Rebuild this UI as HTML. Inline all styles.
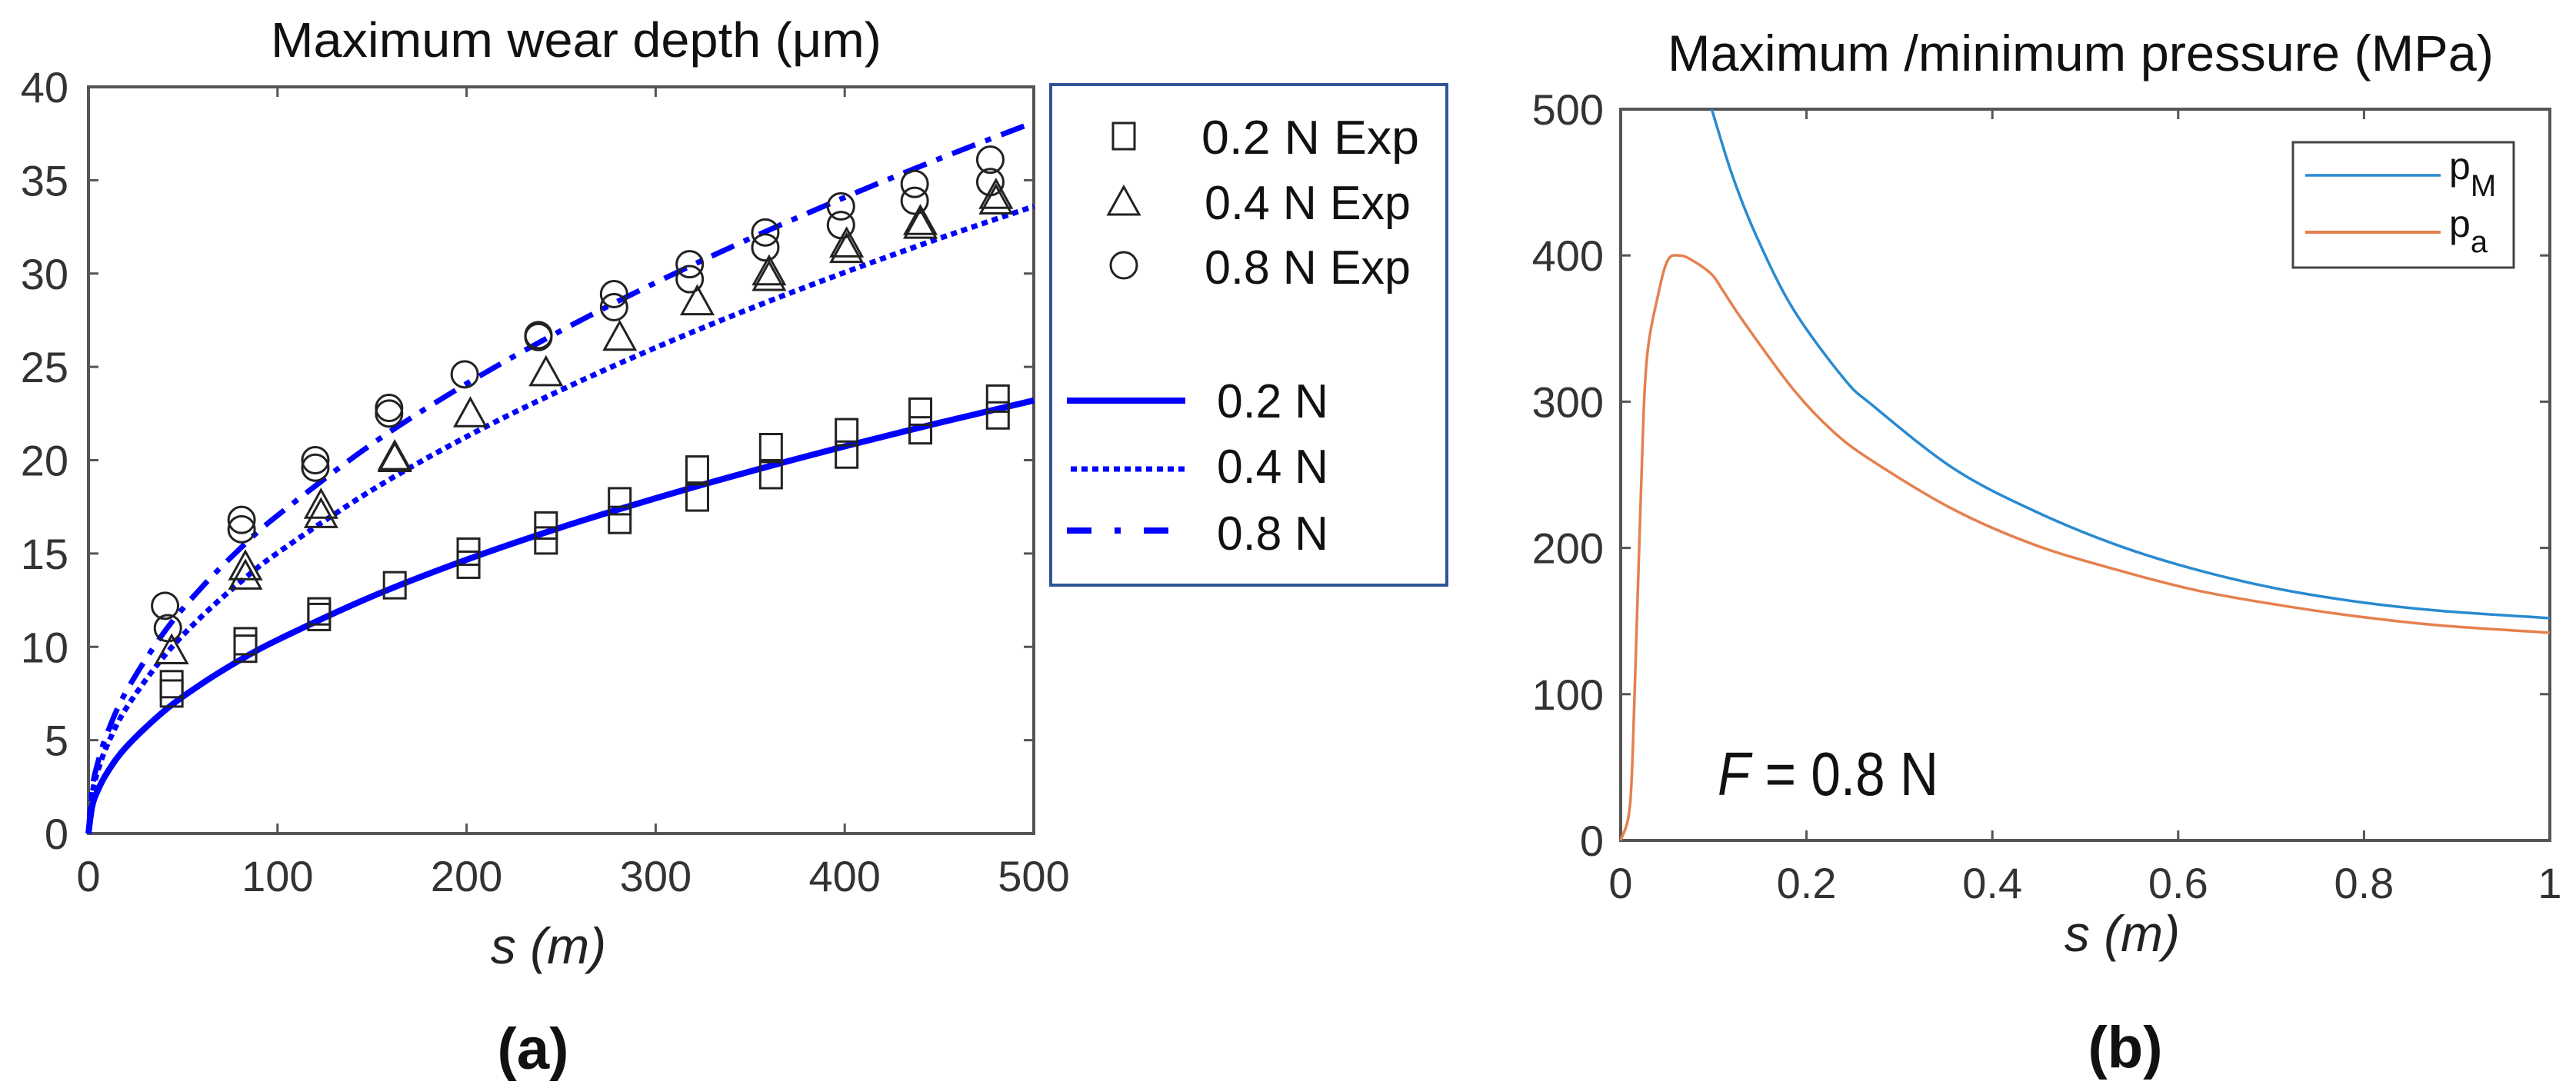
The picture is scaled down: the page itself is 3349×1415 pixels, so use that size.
<!DOCTYPE html>
<html><head><meta charset="utf-8">
<style>
html,body{margin:0;padding:0;background:#fff;}
svg{display:block;}
text{font-family:"Liberation Sans",Arial,sans-serif;}
</style></head>
<body>
<svg id="fig" width="3349" height="1415" viewBox="0 0 3349 1415" xmlns="http://www.w3.org/2000/svg">
<g id="A"></g>
<g id="B"></g>
</svg>
<script>
// ---------- Chart (a) data ----------
const sCurve = [0,2,5,10,20,40,60,80,100,150,200,250,300,350,400,450,500];
const model02 = [0,1.47,2.32,3.28,4.64,6.56,8.03,9.28,10.37,12.70,14.67,16.40,17.96,19.40,20.74,22.0,23.2];
const model04 = [0,2.13,3.36,4.75,6.72,9.5,11.64,13.44,15.03,18.4,21.26,23.76,26.03,28.12,30.06,31.88,33.6];
const model08 = [0,2.41,3.81,5.39,7.62,10.78,13.2,15.24,17.04,20.87,24.1,26.94,29.51,31.88,34.08,36.15,38.1];
const expSqS = [44,44,83,83,122,122,162,201,201,242,242,281,281,322,322,361,361,401,401,440,440,481,481];
const expSqV = [8.0,7.5,10.3,9.9,11.9,11.6,13.3,15.1,14.4,16.5,15.7,17.8,16.8,19.5,18.0,20.7,19.2,21.5,20.3,22.6,21.6,23.3,22.4];
const expTrS = [44,83,83,123,123,162,162,202,242,281,322,360,360,401,401,440,440,480,480];
const expTrV = [9.7,14.2,13.7,17.5,17.0,20.1,20.0,22.4,24.6,26.5,28.4,30.0,29.7,31.5,31.2,32.7,32.5,34.1,33.8];
const expCiS = [40.5,42,81,81,120,120,159,159,199,238,238,278,278,318,318,358,358,398,398,437,437,477,477];
const expCiV = [12.2,11.0,16.8,16.3,20.0,19.6,22.8,22.5,24.6,26.7,26.6,28.9,28.2,30.5,29.7,32.2,31.4,33.6,32.6,34.8,33.9,36.1,34.9];
const aXTicks = [0,100,200,300,400,500];
const aYTicks = [0,5,10,15,20,25,30,35,40];

// ---------- Chart (b) data ----------
const pMS = [0.098,0.12,0.1455,0.185,0.24,0.272,0.359,0.446,0.534,0.62,0.708,0.795,0.882,1.0];
const pMV = [500,455,414,364,316,297,254,225,202,185,172,163,157,152];
const paS = [0,0.01,0.015,0.022,0.028,0.041,0.051,0.063,0.076,0.098,0.111,0.133,0.185,0.228,0.272,0.359,0.446,0.534,0.62,0.708,0.795,0.882,1.0];
const paV = [0,24,100,242,328,375,397,400,397,387,375,354,309,280,259,226,202,185,171,161,153,147,142];
const bXTicks = [0,0.2,0.4,0.6,0.8,1];
const bXLabels = ["0","0.2","0.4","0.6","0.8","1"];
const bYTicks = [0,100,200,300,400,500];

const NS = "http://www.w3.org/2000/svg";
function mk(parent, tag, attrs, txt){
  const e = document.createElementNS(NS, tag);
  for (const k in attrs) e.setAttribute(k, attrs[k]);
  if (txt !== undefined) e.textContent = txt;
  parent.appendChild(e);
  return e;
}

// ---------- Draw chart (a) ----------
const A = document.getElementById('A');
const ax0=115, ax1=1344, ay0=1084, ay1=113;
const axX = v => ax0 + (v/500)*(ax1-ax0);
const axY = v => ay0 - (v/40)*(ay0-ay1);

let t = mk(A,'text',{x:352,y:74,'font-size':64,textLength:794,lengthAdjust:'spacingAndGlyphs',fill:'#111'},'Maximum wear depth (μm)');



aXTicks.forEach(v=>{
  const x=axX(v);
  let l=mk(A,'line',{x1:x,y1:ay0,x2:x,y2:ay0-13,stroke:'#555','stroke-width':3});
  
  
  l=mk(A,'line',{x1:x,y1:ay1,x2:x,y2:ay1+13,stroke:'#555','stroke-width':3});
  
  
  const tx=mk(A,'text',{x:x,y:ay0+75,'font-size':56,'text-anchor':'middle',fill:'#333'},String(v));
  
  
});
aYTicks.forEach(v=>{
  const y=axY(v);
  let l=mk(A,'line',{x1:ax0,y1:y,x2:ax0+13,y2:y,stroke:'#555','stroke-width':3});
  
  
  l=mk(A,'line',{x1:ax1,y1:y,x2:ax1-13,y2:y,stroke:'#555','stroke-width':3});
  
  
  const tx=mk(A,'text',{x:89,y:y+20,'font-size':56,'text-anchor':'end',fill:'#333'},String(v));
  
  
});
let fr=mk(A,'rect',{x:ax0,y:ay1,width:ax1-ax0,height:ay0-ay1,fill:'none',stroke:'#555','stroke-width':4});



function curve(g, xs, ys, fx, fy, attrs, name){
  const P = xs.map((x,i)=>[fx(x), fy(ys[i])]);
  let d = 'M'+P[0][0].toFixed(1)+','+P[0][1].toFixed(1);
  for (let i=0;i<P.length-1;i++){
    const p0=P[Math.max(0,i-1)], p1=P[i], p2=P[i+1], p3=P[Math.min(P.length-1,i+2)];
    const c1=[p1[0]+(p2[0]-p0[0])/6, p1[1]+(p2[1]-p0[1])/6];
    const c2=[p2[0]-(p3[0]-p1[0])/6, p2[1]-(p3[1]-p1[1])/6];
    d += ' C'+c1[0].toFixed(1)+','+c1[1].toFixed(1)+' '+c2[0].toFixed(1)+','+c2[1].toFixed(1)+' '+p2[0].toFixed(1)+','+p2[1].toFixed(1);
  }
  const p = mk(g,'path',Object.assign({d:d,fill:'none'},attrs));
  
  
  return p;
}
curve(A,sCurve,model02,axX,axY,{stroke:'#0000ff','stroke-width':8},'line-0.2N');
curve(A,sCurve,model04,axX,axY,{stroke:'#0000ff','stroke-width':7,'stroke-dasharray':'8 6'},'line-0.4N');
curve(A,sCurve,model08,axX,axY,{stroke:'#0000ff','stroke-width':7,'stroke-dasharray':'32 14 8 14'},'line-0.8N');

function square(g,cx,cy,name){
  const r=mk(g,'rect',{x:cx-14,y:cy-17,width:28,height:34,fill:'none',stroke:'#222','stroke-width':3});
  
  
}
function tri(g,cx,cy,name){
  const p=mk(g,'path',{d:`M${cx},${cy-22} L${cx+20},${cy+14} L${cx-20},${cy+14} Z`,fill:'none',stroke:'#222','stroke-width':3});
  
  
}
function circ(g,cx,cy,name){
  const c=mk(g,'ellipse',{cx:cx,cy:cy,rx:17,ry:17,fill:'none',stroke:'#222','stroke-width':3});
  
  
}
expSqS.forEach((s,i)=>square(A,axX(s),axY(expSqV[i]),'exp-0.2N-point'));
expTrS.forEach((s,i)=>tri(A,axX(s),axY(expTrV[i]),'exp-0.4N-point'));
expCiS.forEach((s,i)=>circ(A,axX(s),axY(expCiV[i]),'exp-0.8N-point'));

t=mk(A,'text',{x:713,y:1253,'font-size':66,'text-anchor':'middle','font-style':'italic',fill:'#222'},'s (m)');


t=mk(A,'text',{x:693,y:1390,'font-size':76,'text-anchor':'middle','font-weight':'bold','font-family':'Liberation Serif, serif',fill:'#111'},'(a)');



// legend (a)
const LG = mk(A,'g',{});


let lb=mk(LG,'rect',{x:1366,y:110,width:515,height:651,fill:'#fff',stroke:'#2f5597','stroke-width':4});


square(LG,1461,177,'legend-square-marker');
tri(LG,1461,265,'legend-triangle-marker');
circ(LG,1461,345,'legend-circle-marker');
[['0.2 N  Exp',1562,200,283],['0.4 N Exp',1566,285,268],['0.8 N Exp',1566,369,268],['0.2 N',1582,543,145],['0.4 N',1582,628,145],['0.8 N',1582,715,145]].forEach(e=>{
  const tx=mk(LG,'text',{x:e[1],y:e[2],'font-size':62,textLength:e[3],lengthAdjust:'spacingAndGlyphs',fill:'#111','xml:space':'preserve'},e[0]);
  
  
});
let ll=mk(LG,'line',{x1:1387,y1:521,x2:1541,y2:521,stroke:'#0000ff','stroke-width':8});


ll=mk(LG,'line',{x1:1392,y1:610,x2:1541,y2:610,stroke:'#0000ff','stroke-width':7,'stroke-dasharray':'8 6'});


ll=mk(LG,'line',{x1:1387,y1:690,x2:1520,y2:690,stroke:'#0000ff','stroke-width':8,'stroke-dasharray':'32 30 8 30'});



// ---------- Draw chart (b) ----------
const B = document.getElementById('B');
const bx0=2107, bx1=3315, by0=1093, by1=142;
const bX = v => bx0 + v*(bx1-bx0);
const bY = v => by0 - (v/500)*(by0-by1);

t=mk(B,'text',{x:2168,y:92,'font-size':66,textLength:1074,lengthAdjust:'spacingAndGlyphs',fill:'#111'},'Maximum /minimum pressure (MPa)');



bXTicks.forEach((v,i)=>{
  const x=bX(v);
  let l=mk(B,'line',{x1:x,y1:by0,x2:x,y2:by0-13,stroke:'#555','stroke-width':3});
  
  
  l=mk(B,'line',{x1:x,y1:by1,x2:x,y2:by1+13,stroke:'#555','stroke-width':3});
  
  
  const tx=mk(B,'text',{x:x,y:by0+75,'font-size':56,'text-anchor':'middle',fill:'#333'},bXLabels[i]);
  
  
});
bYTicks.forEach(v=>{
  const y=bY(v);
  let l=mk(B,'line',{x1:bx0,y1:y,x2:bx0+13,y2:y,stroke:'#555','stroke-width':3});
  
  
  l=mk(B,'line',{x1:bx1,y1:y,x2:bx1-13,y2:y,stroke:'#555','stroke-width':3});
  
  
  const tx=mk(B,'text',{x:2085,y:y+20,'font-size':56,'text-anchor':'end',fill:'#333'},String(v));
  
  
});
fr=mk(B,'rect',{x:bx0,y:by1,width:bx1-bx0,height:by0-by1,fill:'none',stroke:'#555','stroke-width':4});



curve(B,pMS,pMV,bX,bY,{stroke:'#2a8ad0','stroke-width':3.5},'line-pM');
curve(B,paS,paV,bX,bY,{stroke:'#e5804f','stroke-width':3.5},'line-pa');

t=mk(B,'text',{x:2233,y:1034,'font-size':80,textLength:287,lengthAdjust:'spacingAndGlyphs',fill:'#111'});


mk(t,'tspan',{'font-style':'italic'},'F');
mk(t,'tspan',{},' = 0.8 N');

t=mk(B,'text',{x:2759,y:1237,'font-size':66,'text-anchor':'middle','font-style':'italic',fill:'#222'},'s (m)');


t=mk(B,'text',{x:2763,y:1388,'font-size':76,'text-anchor':'middle','font-weight':'bold','font-family':'Liberation Serif, serif',fill:'#111'},'(b)');



const LB = mk(B,'g',{});


lb=mk(LB,'rect',{x:2981,y:185,width:287,height:163,fill:'#fff',stroke:'#444','stroke-width':3});


ll=mk(LB,'line',{x1:2997,y1:228,x2:3173,y2:228,stroke:'#2a8ad0','stroke-width':3.5});


ll=mk(LB,'line',{x1:2997,y1:302,x2:3173,y2:302,stroke:'#e5804f','stroke-width':4});


t=mk(LB,'text',{x:3184,y:233,'font-size':50,fill:'#111'});


mk(t,'tspan',{},'p');
mk(t,'tspan',{'font-size':40,dy:22},'M');
t=mk(LB,'text',{x:3184,y:308,'font-size':50,fill:'#111'});


mk(t,'tspan',{},'p');
mk(t,'tspan',{'font-size':40,dy:20},'a');
</script>
</body></html>
